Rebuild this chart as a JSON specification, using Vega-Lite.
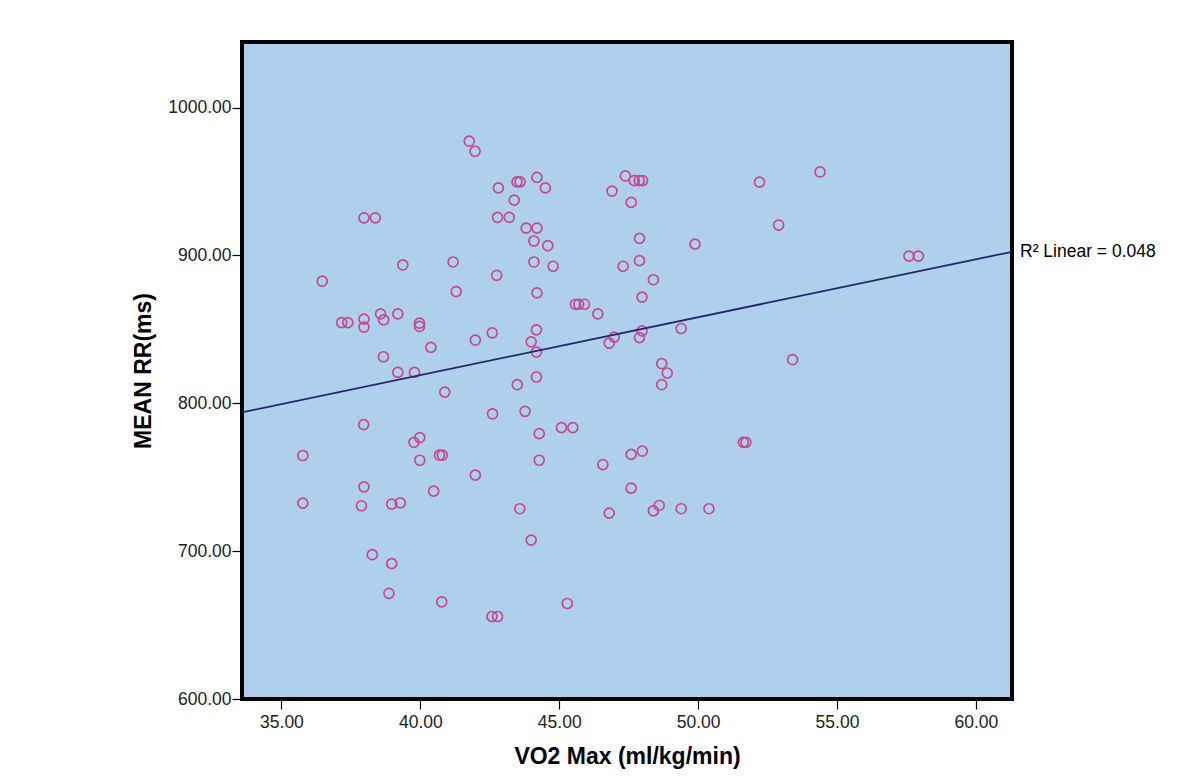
{
  "$schema": "https://vega.github.io/schema/vega-lite/v6.json",
  "width": 770,
  "height": 657,
  "autosize": {"type": "none"},
  "padding": {"left": 242, "top": 42, "right": 183, "bottom": 83},
  "background": "#ffffff",
  "config": {
    "view": {"fill": "#aed0ec", "stroke": "#000000", "strokeWidth": 4},
    "font": "Liberation Sans",
    "axis": {
      "domain": false,
      "grid": false,
      "tickColor": "#000000",
      "tickWidth": 1.2,
      "tickSize": 10,
      "labelFont": "Liberation Sans",
      "labelFontSize": 17.5,
      "labelColor": "#222222",
      "titleFont": "Liberation Sans",
      "titleFontSize": 23,
      "titleFontWeight": "bold",
      "titleColor": "#000000",
      "zindex": 1
    }
  },
  "data": {
    "values": [
      {"vo2": 41.76, "rr": 977.3}, {"vo2": 41.97, "rr": 970.5}, {"vo2": 42.81, "rr": 945.7},
      {"vo2": 37.97, "rr": 925.5}, {"vo2": 38.38, "rr": 925.5}, {"vo2": 42.78, "rr": 925.8},
      {"vo2": 39.37, "rr": 893.6}, {"vo2": 41.18, "rr": 895.6}, {"vo2": 36.47, "rr": 882.6},
      {"vo2": 41.29, "rr": 875.6}, {"vo2": 42.75, "rr": 886.6}, {"vo2": 37.17, "rr": 854.6},
      {"vo2": 37.39, "rr": 854.6}, {"vo2": 37.97, "rr": 856.9}, {"vo2": 37.97, "rr": 851.5},
      {"vo2": 38.57, "rr": 860.5}, {"vo2": 38.68, "rr": 856.4}, {"vo2": 39.19, "rr": 860.5},
      {"vo2": 39.97, "rr": 854.2}, {"vo2": 39.97, "rr": 852.0}, {"vo2": 40.38, "rr": 837.8},
      {"vo2": 41.98, "rr": 842.7}, {"vo2": 42.59, "rr": 847.7}, {"vo2": 38.67, "rr": 831.5},
      {"vo2": 39.19, "rr": 820.9}, {"vo2": 39.79, "rr": 820.9}, {"vo2": 40.88, "rr": 807.6},
      {"vo2": 42.6, "rr": 792.8}, {"vo2": 37.96, "rr": 785.6}, {"vo2": 39.98, "rr": 776.8},
      {"vo2": 39.77, "rr": 773.6}, {"vo2": 35.77, "rr": 764.7}, {"vo2": 40.69, "rr": 764.9},
      {"vo2": 40.79, "rr": 764.9}, {"vo2": 39.98, "rr": 761.5}, {"vo2": 41.98, "rr": 751.4},
      {"vo2": 37.97, "rr": 743.5}, {"vo2": 35.77, "rr": 732.5}, {"vo2": 37.88, "rr": 730.7},
      {"vo2": 38.97, "rr": 731.8}, {"vo2": 39.28, "rr": 732.7}, {"vo2": 40.48, "rr": 740.6},
      {"vo2": 38.27, "rr": 697.6}, {"vo2": 38.97, "rr": 691.6}, {"vo2": 38.87, "rr": 671.5},
      {"vo2": 40.77, "rr": 665.7}, {"vo2": 42.58, "rr": 655.8}, {"vo2": 42.78, "rr": 655.8},
      {"vo2": 43.48, "rr": 949.8}, {"vo2": 43.59, "rr": 949.8}, {"vo2": 44.2, "rr": 952.8},
      {"vo2": 44.5, "rr": 945.7}, {"vo2": 43.38, "rr": 937.4}, {"vo2": 43.2, "rr": 925.8},
      {"vo2": 43.81, "rr": 918.5}, {"vo2": 44.2, "rr": 918.5}, {"vo2": 44.09, "rr": 909.8},
      {"vo2": 44.59, "rr": 906.6}, {"vo2": 44.09, "rr": 895.6}, {"vo2": 44.78, "rr": 892.7},
      {"vo2": 44.2, "rr": 874.7}, {"vo2": 45.58, "rr": 867.0}, {"vo2": 45.7, "rr": 867.0},
      {"vo2": 45.91, "rr": 867.0}, {"vo2": 47.38, "rr": 953.8}, {"vo2": 47.7, "rr": 950.7},
      {"vo2": 47.88, "rr": 950.7}, {"vo2": 48.0, "rr": 950.7}, {"vo2": 46.9, "rr": 943.5},
      {"vo2": 47.59, "rr": 935.9}, {"vo2": 47.89, "rr": 911.6}, {"vo2": 49.89, "rr": 907.7},
      {"vo2": 47.89, "rr": 896.5}, {"vo2": 47.3, "rr": 892.7}, {"vo2": 48.39, "rr": 883.6},
      {"vo2": 47.98, "rr": 871.8}, {"vo2": 46.39, "rr": 860.5}, {"vo2": 44.18, "rr": 849.7},
      {"vo2": 43.99, "rr": 841.6}, {"vo2": 44.18, "rr": 834.6}, {"vo2": 46.98, "rr": 844.8},
      {"vo2": 46.8, "rr": 840.7}, {"vo2": 47.98, "rr": 849.0}, {"vo2": 47.89, "rr": 844.5},
      {"vo2": 49.39, "rr": 850.6}, {"vo2": 44.18, "rr": 817.8}, {"vo2": 43.49, "rr": 812.6},
      {"vo2": 48.69, "rr": 826.8}, {"vo2": 48.89, "rr": 820.5}, {"vo2": 48.69, "rr": 812.6},
      {"vo2": 43.77, "rr": 794.6}, {"vo2": 44.28, "rr": 779.5}, {"vo2": 45.08, "rr": 783.6},
      {"vo2": 45.49, "rr": 783.6}, {"vo2": 44.28, "rr": 761.5}, {"vo2": 46.57, "rr": 758.6},
      {"vo2": 47.59, "rr": 765.5}, {"vo2": 47.99, "rr": 767.6}, {"vo2": 51.63, "rr": 773.6},
      {"vo2": 51.72, "rr": 773.6}, {"vo2": 43.58, "rr": 728.7}, {"vo2": 43.99, "rr": 707.5},
      {"vo2": 45.29, "rr": 664.6}, {"vo2": 46.8, "rr": 725.7}, {"vo2": 47.59, "rr": 742.6},
      {"vo2": 48.39, "rr": 727.3}, {"vo2": 48.6, "rr": 730.9}, {"vo2": 49.39, "rr": 728.7},
      {"vo2": 50.39, "rr": 728.7}, {"vo2": 52.21, "rr": 949.6}, {"vo2": 54.39, "rr": 956.5},
      {"vo2": 52.9, "rr": 920.6}, {"vo2": 57.59, "rr": 899.6}, {"vo2": 57.93, "rr": 899.6},
      {"vo2": 53.4, "rr": 829.5}
    ]
  },
  "layer": [
    {
      "mark": {"type": "point", "shape": "circle", "filled": false, "color": "#c8478d", "size": 100, "strokeWidth": 1.7, "opacity": 1},
      "encoding": {
        "x": {
          "field": "vo2", "type": "quantitative",
          "scale": {"domain": [33.58, 61.3], "nice": false, "zero": false},
          "axis": {"title": "VO2 Max (ml/kg/min)", "values": [35, 40, 45, 50, 55, 60], "format": ".2f", "labelPadding": 4, "titlePadding": 15}
        },
        "y": {
          "field": "rr", "type": "quantitative",
          "scale": {"domain": [600, 1044.4], "nice": false, "zero": false},
          "axis": {"title": "MEAN RR(ms)", "values": [600, 700, 800, 900, 1000], "format": ".2f", "labelPadding": 1, "titlePadding": 12}
        }
      }
    },
    {
      "transform": [{"regression": "rr", "on": "vo2", "extent": [33.58, 61.3]}],
      "mark": {"type": "line", "color": "#25246e", "strokeWidth": 1.8},
      "encoding": {
        "x": {"field": "vo2", "type": "quantitative"},
        "y": {"field": "rr", "type": "quantitative"}
      }
    },
    {
      "transform": [{"regression": "rr", "on": "vo2", "extent": [33.58, 61.3]}, {"filter": "datum.vo2 > 61"}],
      "mark": {"type": "text", "align": "left", "baseline": "middle", "dx": 8, "fontSize": 17.5, "color": "#000000", "font": "Liberation Sans"},
      "encoding": {
        "x": {"field": "vo2", "type": "quantitative"},
        "y": {"field": "rr", "type": "quantitative"},
        "text": {"value": "R² Linear = 0.048"}
      }
    }
  ]
}
